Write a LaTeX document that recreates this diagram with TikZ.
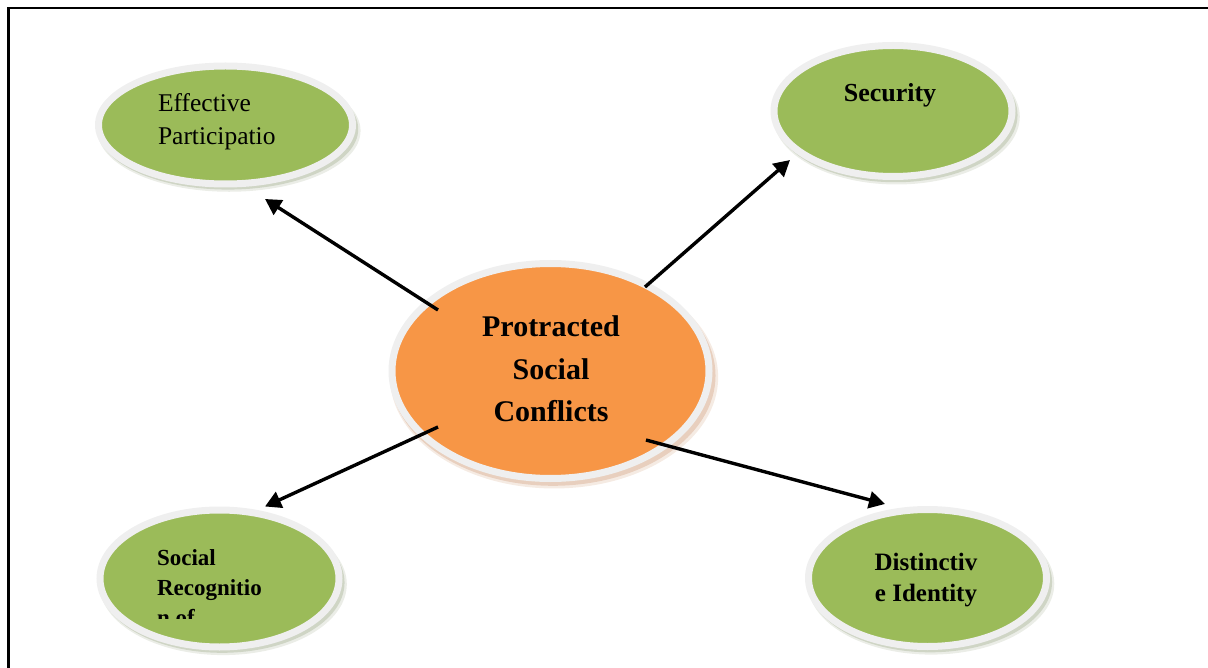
\documentclass[tikz,border=0pt]{standalone}
\usepackage{fontspec}
\setmainfont{Liberation Serif}
\usetikzlibrary{arrows.meta,shapes.geometric,shadows}
\definecolor{leaf}{HTML}{9BBB59}
\definecolor{peach}{HTML}{F79646}
\definecolor{ring}{HTML}{EFEFEF}
\definecolor{leafshade}{HTML}{8E9C78}
\definecolor{peachshade}{HTML}{C98F66}
\begin{document}
\begin{tikzpicture}[x=1pt,y=-1pt,
  bubble/.style={ellipse, draw=ring, line width=7pt, inner sep=0pt, outer sep=0pt},
  greenbubble/.style={bubble, fill=leaf,
    general shadow={shadow xshift=3.5pt, shadow yshift=-5.5pt, shadow scale=1.035, fill=leafshade, opacity=0.18},
    general shadow={shadow xshift=2.5pt, shadow yshift=-4pt, shadow scale=1.025, fill=leafshade, opacity=0.3}},
  orangebubble/.style={bubble, fill=peach,
    general shadow={shadow xshift=3.5pt, shadow yshift=-6pt, shadow scale=1.035, fill=peachshade, opacity=0.18},
    general shadow={shadow xshift=2.5pt, shadow yshift=-4.5pt, shadow scale=1.025, fill=peachshade, opacity=0.3}},
  lbl/.style={inner sep=0pt, outer sep=0pt, anchor=base},
  lblw/.style={inner sep=0pt, outer sep=0pt, anchor=base west},
  arr/.style={line width=3.4pt, -{Triangle[length=16pt,width=17pt]}}
]
\useasboundingbox (0,0) rectangle (1208,668);
\draw[line width=2.5pt] (8.7,668) -- (8.7,7.8) -- (1208,7.8);

% bubbles
\node[orangebubble, minimum width=317pt, minimum height=215pt] (core) at (550.5,371) {};
\node[greenbubble, minimum width=254pt, minimum height=118pt] (part) at (225.5,125) {};
\node[greenbubble, minimum width=238pt, minimum height=131pt] (sec) at (893,111) {};
\node[greenbubble, minimum width=239pt, minimum height=137pt] (rec) at (219.5,578.5) {};
\node[greenbubble, minimum width=238pt, minimum height=137pt] (ident) at (927.5,578) {};

% texts
\node[lblw, font=\fontsize{25.5}{30}\selectfont] (parta) at (158,112) {Effective};
\node[lblw, font=\fontsize{25.5}{30}\selectfont] (partb) at (158,145) {Participatio};
\node[lbl, font=\fontsize{26}{30}\selectfont\bfseries] (seca) at (890,101.5) {Security};
\node[lbl, font=\fontsize{30}{36}\selectfont\bfseries] (corea) at (551,336.5) {Protracted};
\node[lbl, font=\fontsize{30}{36}\selectfont\bfseries] (coreb) at (551,379.5) {Social};
\node[lbl, font=\fontsize{30}{36}\selectfont\bfseries] (corec) at (551,421.5) {Conflicts};
\node[lblw, font=\fontsize{23}{28}\selectfont\bfseries] (reca) at (157,565) {Social};
\node[lblw, font=\fontsize{23}{28}\selectfont\bfseries] (recb) at (157,595) {Recognitio};
\begin{scope}
  \clip (140,600) rectangle (330,618);
  \node[lblw, font=\fontsize{23}{28}\selectfont\bfseries] (recc) at (157,625) {n of};
\end{scope}
\node[lbl, font=\fontsize{25}{30}\selectfont\bfseries] (identa) at (926,570) {Distinctiv};
\node[lbl, font=\fontsize{25}{30}\selectfont\bfseries] (identb) at (926,601) {e Identity};

% connector ends
\coordinate (s1) at (438,310);
\coordinate (e1) at (265,199);
\coordinate (s2) at (645,287);
\coordinate (e2) at (790,160);
\coordinate (s3) at (438,427);
\coordinate (e3) at (265,506.5);
\coordinate (s4) at (646,440);
\coordinate (e4) at (885,504);

\draw[arr] (s1) -- (e1);
\draw[arr] (s2) -- (e2);
\draw[arr] (s3) -- (e3);
\draw[arr] (s4) -- (e4);
\end{tikzpicture}
\end{document}
